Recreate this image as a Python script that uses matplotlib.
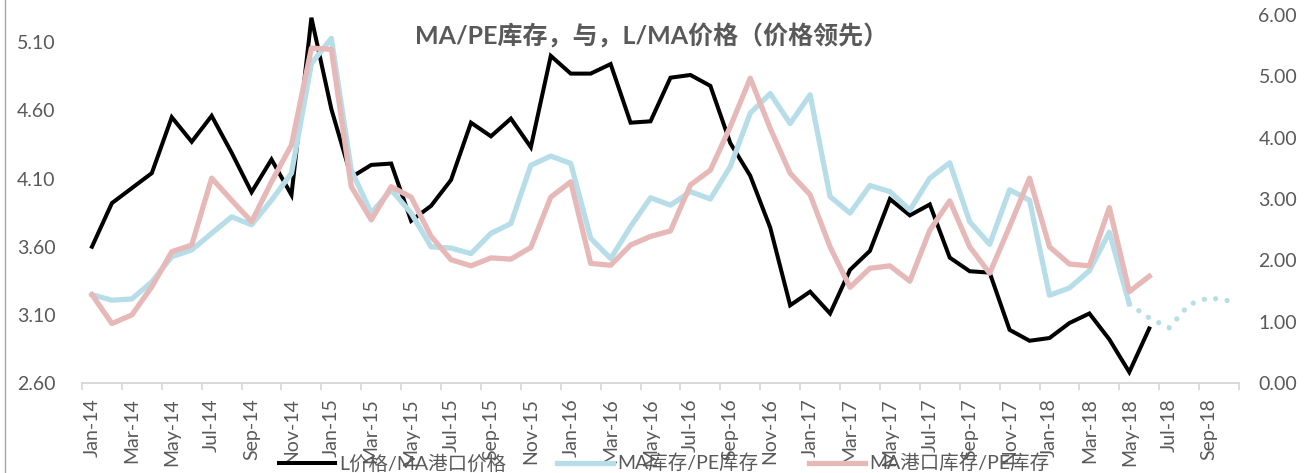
import numpy as np
import pandas as pd
import matplotlib
matplotlib.use('Agg')
import matplotlib.pyplot as plt
from matplotlib.lines import Line2D

plt.rcParams['font.family'] = ['Lato', 'Noto Sans CJK SC', 'DejaVu Sans']

# 月份 Jan-14 .. Oct-18
months = pd.date_range('2014-01-01', periods=58, freq='MS').strftime('%b-%y').tolist()

# L价格/MA港口价格 (左轴)
price_ratio = [3.60, 3.92, 4.03, 4.14, 4.55, 4.37, 4.56, 4.29, 4.00, 4.24,
               3.98, 5.28, 4.61, 4.11, 4.20, 4.21, 3.79, 3.90, 4.09, 4.51,
               4.41, 4.54, 4.33, 5.00, 4.87, 4.87, 4.94, 4.51, 4.52, 4.84,
               4.86, 4.78, 4.36, 4.12, 3.74, 3.17, 3.27, 3.11, 3.43, 3.57,
               3.95, 3.83, 3.91, 3.52, 3.42, 3.41, 2.99, 2.91, 2.93, 3.04,
               3.11, 2.92, 2.68, 3.00]

# MA库存/PE库存 (右轴)
stock_ratio = [1.44, 1.35, 1.37, 1.65, 2.06, 2.17, 2.44, 2.71, 2.58, 2.98,
               3.42, 5.21, 5.62, 3.47, 2.77, 3.15, 2.77, 2.22, 2.20, 2.11,
               2.44, 2.60, 3.55, 3.70, 3.58, 2.36, 2.03, 2.55, 3.02, 2.90,
               3.12, 3.00, 3.53, 4.40, 4.72, 4.23, 4.70, 3.04, 2.77, 3.22,
               3.12, 2.82, 3.34, 3.59, 2.63, 2.26, 3.15, 2.98, 1.43, 1.55,
               1.83, 2.46, 1.29]
# 虚线部分 (May-18 .. Oct-18)
stock_ratio_ext = [1.29, 1.06, 0.90, 1.28, 1.39, 1.34]

# MA港口库存/PE库存 (右轴)
port_ratio = [1.44, 0.97, 1.11, 1.57, 2.14, 2.25, 3.34, 2.98, 2.63, 3.28,
              3.88, 5.46, 5.44, 3.20, 2.66, 3.20, 3.03, 2.39, 2.01, 1.91,
              2.04, 2.02, 2.21, 3.03, 3.28, 1.95, 1.92, 2.25, 2.39, 2.48,
              3.23, 3.47, 4.18, 4.97, 4.15, 3.42, 3.07, 2.22, 1.56, 1.87,
              1.91, 1.66, 2.49, 2.97, 2.22, 1.79, 2.55, 3.34, 2.22, 1.94,
              1.91, 2.86, 1.49, 1.74]

black = '#000000'
blue = '#B7DEE8'
pink = '#E6B9B8'
grey_txt = '#595959'

W, H = 1304, 473
fig = plt.figure(figsize=(W / 100, H / 100), dpi=100)
ax = fig.add_axes([82 / W, 1 - 383 / H, (1239 - 82) / W, (383 - 15) / H])
ax2 = ax.twinx()

ax.plot(np.arange(len(price_ratio)), price_ratio, color=black, lw=2.9,
        solid_joinstyle='miter')
ax2.plot(np.arange(len(stock_ratio)), stock_ratio, color=blue, lw=3.8)
start = len(stock_ratio) - 1
ax2.plot(np.arange(start, start + len(stock_ratio_ext)), stock_ratio_ext,
         color=blue, lw=3.8, linestyle=(0, (0.01, 2.2)), dash_capstyle='round')
ax2.plot(np.arange(len(port_ratio)), port_ratio, color=pink, lw=3.8)

n = len(months)
ax.set_xlim(-0.5, n - 0.5)
ax.set_ylim(2.6, 5.30)
ax2.set_ylim(0, 6.0)

ax.set_yticks(np.arange(2.6, 5.2, 0.5))
ax.set_yticklabels([f'{v:.2f}' for v in np.arange(2.6, 5.2, 0.5)])
ax2.set_yticks(np.arange(0, 6.5, 1.0))
ax2.set_yticklabels([f'{v:.2f}' for v in np.arange(0, 6.5, 1.0)])

# 刻度线在类别之间，标签每两个月一个
ax.set_xticks(np.arange(-0.5, n, 2))
ax.set_xticklabels([])
ax.set_xticks(np.arange(0, n, 2), minor=True)
ax.set_xticklabels(months[::2], minor=True, rotation=90)
ax.tick_params(axis='x', which='major', length=5, width=1.3, color='#d9d9d9')
ax.tick_params(axis='x', which='minor', length=0, pad=11, labelsize=14,
               labelcolor=grey_txt)
ax.tick_params(axis='y', length=0, pad=19, labelsize=14, labelcolor=grey_txt)
ax2.tick_params(axis='y', length=0, pad=14, labelsize=14, labelcolor=grey_txt)

for a in (ax, ax2):
    for s in ('top', 'left', 'right'):
        a.spines[s].set_visible(False)
    a.spines['bottom'].set_color('#d9d9d9')
    a.spines['bottom'].set_linewidth(1.3)

fig.text(0.5, 1 - 36 / H, 'MA/PE库存，与，L/MA价格（价格领先）', ha='center',
         va='center', fontsize=18, fontweight='bold', color=grey_txt)

handles = [Line2D([], [], color=black, lw=2.9),
           Line2D([], [], color=blue, lw=3.8),
           Line2D([], [], color=pink, lw=3.8)]
labels = ['L价格/MA港口价格', 'MA库存/PE库存', 'MA港口库存/PE库存']
leg = fig.legend(handles, labels, loc='center', ncol=3,
                 bbox_to_anchor=(664 / W, 10 / H), frameon=False, fontsize=14,
                 handlelength=2.9, handletextpad=0.2, columnspacing=2.6,
                 borderpad=0)
for t in leg.get_texts():
    t.set_color(grey_txt)

fig.add_artist(Line2D([5 / W, 5 / W], [0, 1], transform=fig.transFigure,
                      color='#a6a6a6', lw=1))

fig.savefig('out.png', dpi=100)
